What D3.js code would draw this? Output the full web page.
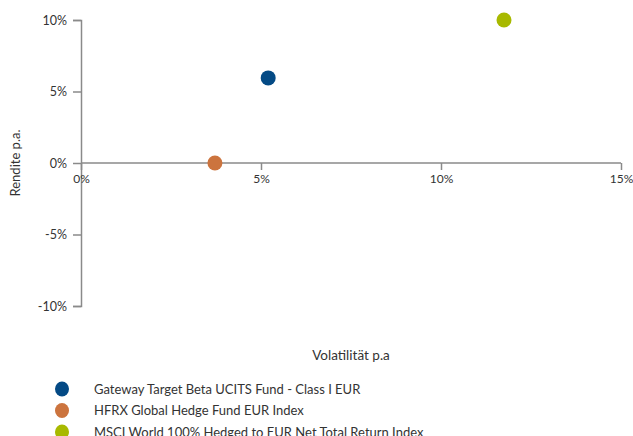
<!DOCTYPE html>
<html>
<head>
<meta charset="utf-8">
<script src="https://cdn.jsdelivr.net/npm/d3@7.9.0/dist/d3.min.js"></script>
<style>
  body { margin: 0; background: #fff; }
  svg text { font-family: Lato, "Open Sans", sans-serif; fill: #333; }
</style>
</head>
<body>
<svg id="chart" width="633" height="436"></svg>
<script>
// ====== DATA ======
const seriesNames = [
  'Gateway Target Beta UCITS Fund - Class I EUR',
  'HFRX Global Hedge Fund EUR Index',
  'MSCI World 100% Hedged to EUR Net Total Return Index'
];
const volatility = [5.2, 3.72, 11.75];
const returns = [5.95, 0.0, 10.0];
const colors = ['#044a85', '#cc743e', '#a8b900'];
const xTicks = [0, 5, 10, 15];
const yTicks = [-10, -5, 0, 5, 10];

const points = seriesNames.map((name, i) => ({
  name, vol: volatility[i], ret: returns[i], color: colors[i]
}));

// ====== LAYOUT ======
const svg = d3.select('#chart');

const x = d3.scaleLinear().domain([0, 15]).range([81, 621]);
const y = d3.scaleLinear().domain([-10, 10]).range([306, 20]);

const fmt = (d) => d + '%';

// y axis
const yAxis = svg.append('g')
  .attr('transform', `translate(${x(0)},0)`)
  .call(d3.axisLeft(y).tickValues(yTicks).tickFormat(fmt).tickSize(8).tickPadding(6));

// x axis through zero
const xAxis = svg.append('g')
  .attr('transform', `translate(0,${y(0)})`)
  .call(d3.axisBottom(x).tickValues(xTicks).tickFormat(fmt).tickSize(7).tickPadding(4));

[yAxis, xAxis].forEach((g) => {
  g.select('.domain').attr('stroke', '#8a8a8a').attr('stroke-width', 1.5);
  g.selectAll('.tick line').attr('stroke', '#8a8a8a').attr('stroke-width', 1.5);
  g.selectAll('.tick text').style('font-size', '12.5px').attr('fill', '#333');
});
xAxis.select('.domain').attr('d', `M${x(0)},0H${x(15)}`);
xAxis.selectAll('.tick text').style('font-size', '12px');

// axis titles
svg.append('text')
  .attr('transform', `translate(20,${y(0)}) rotate(-90)`)
  .attr('text-anchor', 'middle')
  .style('font-size', '13px')
  .text('Rendite p.a.');

svg.append('text')
  .attr('x', 351)
  .attr('y', 360)
  .attr('text-anchor', 'middle')
  .style('font-size', '13.5px')
  .text('Volatilität p.a');

// points
svg.append('g')
  .selectAll('circle')
  .data(points)
  .join('circle')
  .attr('cx', (d) => x(d.vol))
  .attr('cy', (d) => y(d.ret))
  .attr('r', 7.5)
  .attr('fill', (d) => d.color);

// legend
const legend = svg.append('g')
  .selectAll('g')
  .data(points)
  .join('g')
  .attr('transform', (d, i) => `translate(0,${389 + i * 21.5})`);

legend.append('ellipse')
  .attr('cx', 62)
  .attr('cy', 0)
  .attr('rx', 7)
  .attr('ry', 7.5)
  .attr('fill', (d) => d.color);

legend.append('text')
  .attr('x', 94)
  .attr('y', 4.5)
  .style('font-size', '13px')
  .text((d) => d.name);
</script>
</body>
</html>
